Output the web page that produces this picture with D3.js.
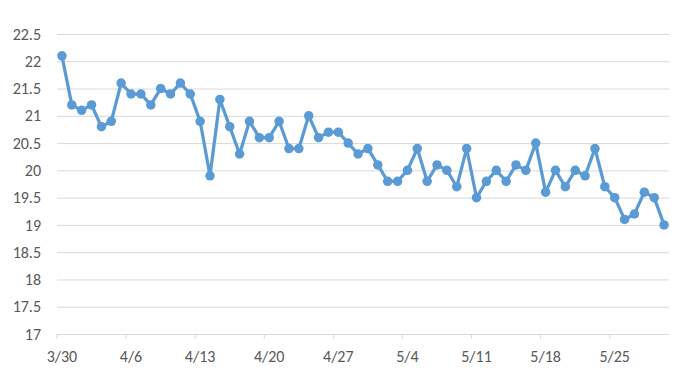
<!DOCTYPE html>
<html>
<head>
<meta charset="utf-8">
<script src="https://cdn.jsdelivr.net/npm/d3@7"></script>
<style>
	body { margin: 0; background: #fff; }
	text { font-family: Calibri, Carlito, "Liberation Sans Narrow", "Liberation Sans", sans-serif; fill: #595959; }
</style>
</head>
<body>
<div id="wrapper"></div>
<script>

// 1. Data

const startDay = "2020-03-30";
const values = [
	22.1, 21.2, 21.1, 21.2, 20.8, 20.9, 21.6, 21.4, 21.4, 21.2,
	21.5, 21.4, 21.6, 21.4, 20.9, 19.9, 21.3, 20.8, 20.3, 20.9,
	20.6, 20.6, 20.9, 20.4, 20.4, 21.0, 20.6, 20.7, 20.7, 20.5,
	20.3, 20.4, 20.1, 19.8, 19.8, 20.0, 20.4, 19.8, 20.1, 20.0,
	19.7, 20.4, 19.5, 19.8, 20.0, 19.8, 20.1, 20.0, 20.5, 19.6,
	20.0, 19.7, 20.0, 19.9, 20.4, 19.7, 19.5, 19.1, 19.2, 19.6,
	19.5, 19.0
];
const yTicks = [17, 17.5, 18, 18.5, 19, 19.5, 20, 20.5, 21, 21.5, 22, 22.5];

const parseDay = d3.timeParse("%Y-%m-%d");
const firstDay = parseDay(startDay);
const days = values.map((v, i) => d3.timeDay.offset(firstDay, i));
const dataset = values.map((v, i) => ({ date: days[i], value: v }));

const dateAccessor = d => d.date;
const valueAccessor = d => d.value;

// 2. Dimensions

const width = 678;
const height = 379;
const margin = { top: 34, right: 9, bottom: 45, left: 57 };
const boundedWidth = width - margin.left - margin.right;
const boundedHeight = height - margin.top - margin.bottom;

// 3. Canvas

const svg = d3.select("#wrapper")
	.append("svg")
	.attr("width", width)
	.attr("height", height);

const bounds = svg.append("g")
	.attr("transform", `translate(${margin.left}, ${margin.top})`);

// 4. Scales

const lastDay = d3.timeDay.offset(days[days.length - 1], 1);
const xScale = d3.scaleTime()
	.domain([firstDay, lastDay])
	.range([0, boundedWidth]);

const yScale = d3.scaleLinear()
	.domain([17, 22.5])
	.range([boundedHeight, 0]);

// middle of each day, like a category axis
const xMid = d => (xScale(d) + xScale(d3.timeDay.offset(d, 1))) / 2;

// 5. Peripherals under the data

const yAxis = d3.axisLeft(yScale)
	.tickValues(yTicks)
	.tickSize(-boundedWidth)
	.tickPadding(16)
	.tickFormat(d3.format("~g"));

const yAxisGroup = bounds.append("g").call(yAxis);
yAxisGroup.select(".domain").remove();
yAxisGroup.selectAll("line").attr("stroke", "#d9d9d9");
yAxisGroup.selectAll("text").style("font-size", "16px");

const weekTicks = d3.timeDay.range(firstDay, lastDay, 7);

const xAxisGroup = bounds.append("g")
	.attr("transform", `translate(0, ${boundedHeight})`);

xAxisGroup.selectAll("line")
	.data(weekTicks)
	.enter()
	.append("line")
	.attr("x1", d => xScale(d))
	.attr("x2", d => xScale(d))
	.attr("y1", 0)
	.attr("y2", 5)
	.attr("stroke", "#d9d9d9");

xAxisGroup.selectAll("text")
	.data(weekTicks)
	.enter()
	.append("text")
	.attr("x", d => xMid(d))
	.attr("y", 28)
	.attr("text-anchor", "middle")
	.style("font-size", "16px")
	.text(d3.timeFormat("%-m/%-d"));

// 6. Data

const lineGenerator = d3.line()
	.x(d => xMid(dateAccessor(d)))
	.y(d => yScale(valueAccessor(d)));

bounds.append("path")
	.datum(dataset)
	.attr("d", lineGenerator)
	.attr("fill", "none")
	.attr("stroke", "#5b9bd5")
	.attr("stroke-width", 3.25)
	.attr("stroke-linejoin", "round");

bounds.append("g")
	.selectAll("circle")
	.data(dataset)
	.enter()
	.append("circle")
	.attr("cx", d => xMid(dateAccessor(d)))
	.attr("cy", d => yScale(valueAccessor(d)))
	.attr("r", 4.75)
	.attr("fill", "#5b9bd5");

</script>
</body>
</html>
